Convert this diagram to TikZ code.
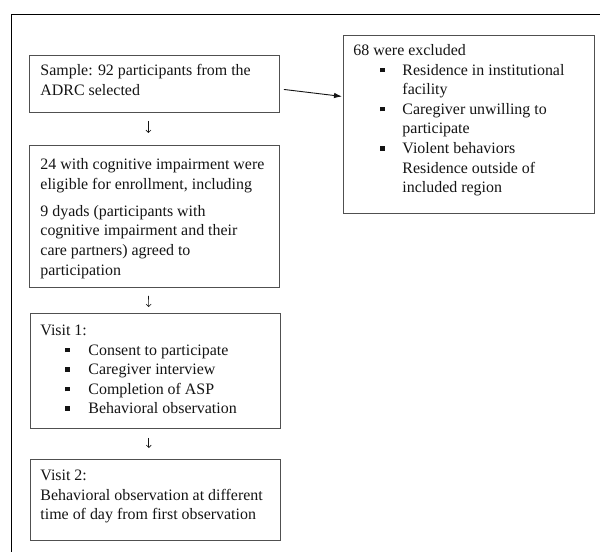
\documentclass[tikz,border=0pt]{standalone}
\usepackage{fontspec}
\setmainfont{Liberation Serif}
\usetikzlibrary{arrows.meta}
\definecolor{boxline}{RGB}{80,80,80}
\definecolor{txt}{RGB}{20,20,20}
\newcommand{\bxtext}[5]{% width height pad firstbaseline content
  \parbox[c][#2bp][t]{#1bp}{\fontsize{16}{19.7}\selectfont\raggedright\leftskip=#3bp\relax
  \rule{0pt}{#4bp}#5}}
\newcommand{\bul}[2]{\hspace*{#1bp}\rule[3bp]{4.5bp}{4.5bp}\hspace*{#2bp}}
\tikzset{
  flowbox/.style={draw=boxline, line width=0.9bp, inner sep=0pt, anchor=north west, text=txt},
  downarr/.style={draw=txt, line width=0.6bp, -{Straight Barb[length=2.5bp,width=5bp]}},
  sidearr/.style={draw=txt, line width=0.9bp, -{Latex[length=8bp,width=5.5bp]}},
}
\begin{document}
\begin{tikzpicture}[x=1bp,y=-1bp]
\useasboundingbox (0,0) rectangle (600,552);
\fill[white] (0,0) rectangle (600,552);
\draw[line width=1bp] (600,15) -- (11,15) -- (11,552);

\node[flowbox] (b1) at (29,55) {\bxtext{250}{57}{11}{20.5}{Sample: 92 participants from the\\ADRC selected}};

\node[flowbox] (b2) at (29,145) {\bxtext{250}{142}{11}{24.5}{24 with cognitive impairment were\\eligible for enrollment, including\par\vspace{7.1bp}
9 dyads (participants with\\cognitive impairment and their\\care partners) agreed to\\participation}};

\node[flowbox] (ex) at (343,35) {\bxtext{251}{178}{10}{20}{68 were excluded\\
\bul{27}{17.5}Residence in institutional\\
\hspace*{49bp}facility\\
\bul{27}{17.5}Caregiver unwilling to\\
\hspace*{49bp}participate\\
\bul{27}{17.5}Violent behaviors\\
\hspace*{49bp}Residence outside of\\
\hspace*{49bp}included region}};

\node[flowbox] (b3) at (30,313) {\bxtext{250}{115}{10}{22}{Visit 1:\\
\bul{25}{18.5}Consent to participate\\
\bul{25}{18.5}Caregiver interview\\
\bul{25}{18.5}Completion of ASP\\
\bul{25}{18.5}Behavioral observation}};

\node[flowbox] (b4) at (30,459) {\bxtext{250}{81}{10}{21}{Visit 2:\\
Behavioral observation at different\\
time of day from first observation}};

\draw[sidearr] ([xshift=4bp,yshift=-5.5bp]b1.east) -- ([xshift=-1bp,yshift=28bp]ex.west);
\draw[downarr] ([xshift=-6bp,yshift=-8bp]b1.south) -- ([xshift=-6bp,yshift=12bp]b2.north);
\draw[downarr] ([xshift=-6bp,yshift=-8bp]b2.south) -- ([xshift=-6.7bp,yshift=6bp]b3.north);
\draw[downarr] ([xshift=-6.7bp,yshift=-9bp]b3.south) -- ([xshift=-6.7bp,yshift=11bp]b4.north);
\end{tikzpicture}
\end{document}
